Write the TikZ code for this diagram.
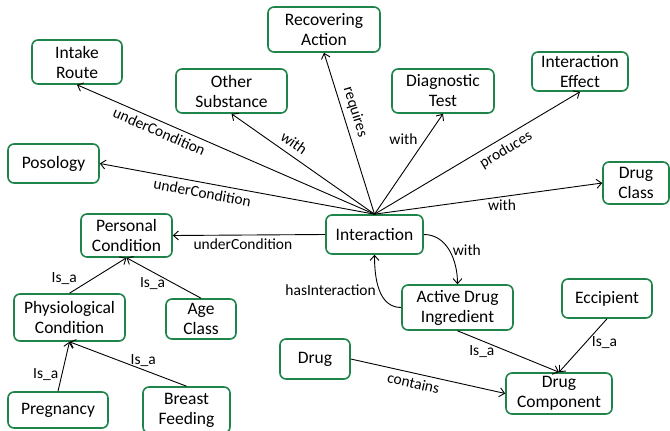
\documentclass[tikz,border=0pt]{standalone}
\usepackage{fontspec}
\setmainfont{Carlito}
\usetikzlibrary{arrows.meta}

\definecolor{boxgreen}{RGB}{30,132,73}

\begin{document}
\begin{tikzpicture}[x=1pt,y=-1pt]

	\tikzset{
	  concept/.style={
		draw=boxgreen,
		line width=1.6pt,
		rounded corners=6pt,
		align=center,
		inner sep=0pt,
		font=\fontsize{17.5}{20}\selectfont,
	  },
	  rel/.style={
		line width=0.9pt,
		-{Straight Barb[length=5pt,width=9pt]},
	  },
	  lbl/.style={
		font=\fontsize{15.5}{17}\selectfont,
		inner sep=3pt,
	  },
	}
	\clip (0,0) rectangle (670,431);

	% concepts
	\node[concept,minimum width=90pt,minimum height=44pt] (intake) at (77,62) {Intake\\Route};
	\node[concept,minimum width=111pt,minimum height=44pt] (other) at (231.5,91) {Other\\Substance};
	\node[concept,minimum width=91pt,minimum height=39pt] (posology) at (53.5,163.5) {Posology};
	\node[concept,minimum width=112pt,minimum height=45pt] (recovering) at (324,29.5) {Recovering\\Action};
	\node[concept,minimum width=102pt,minimum height=44pt] (diagnostic) at (443,91) {Diagnostic\\Test};
	\node[concept,minimum width=96pt,minimum height=39pt] (effect) at (580,71.5) {Interaction\\Effect};
	\node[concept,minimum width=66pt,minimum height=42pt] (drugclass) at (636,183) {Drug\\Class};
	\node[concept,minimum width=97pt,minimum height=39pt] (interaction) at (374.5,234.5) {Interaction};
	\node[concept,minimum width=91pt,minimum height=43pt] (personal) at (126.5,235.5) {Personal\\Condition};
	\node[concept,minimum width=111pt,minimum height=47pt] (physio) at (69.5,317.5) {Physiological\\Condition};
	\node[concept,minimum width=70pt,minimum height=40pt] (age) at (201,319) {Age\\Class};
	\node[concept,minimum width=100pt,minimum height=36pt] (pregnancy) at (58,410) {Pregnancy};
	\node[concept,minimum width=87pt,minimum height=46pt] (breast) at (186.5,410) {Breast\\Feeding};
	\node[concept,minimum width=111pt,minimum height=45pt] (active) at (457.5,307.5) {Active Drug\\Ingredient};
	\node[concept,minimum width=90pt,minimum height=39pt] (eccipient) at (607,298.5) {Eccipient};
	\node[concept,minimum width=70pt,minimum height=40pt] (drug) at (315,359) {Drug};
	\node[concept,minimum width=106pt,minimum height=41pt] (component) at (559,393.5) {Drug\\Component};

	% relations from Interaction
	\draw[rel] (interaction.north) -- node[lbl,pos=.71,sloped,below=1pt] {underCondition} (intake.south);
	\draw[rel] (interaction.north) -- node[lbl,pos=.61,sloped,above=3pt] {with} (other.south);
	\draw[rel] (interaction.north) -- node[lbl,pos=.62,sloped,below=1pt] {underCondition} (posology.east);
	\draw[rel] (interaction.north) -- node[lbl,pos=.61,sloped,above=2pt] {requires} (recovering.south);
	\draw[rel] (interaction.north) -- node[lbl,pos=.75,left=5pt] {with} (diagnostic.south);
	\draw[rel] (interaction.north) -- node[lbl,pos=.61,sloped,below=2pt] {produces} (effect.south);
	\draw[rel] (interaction.north) -- node[lbl,pos=.56,below] {with} (drugclass.west);
	\draw[rel] (interaction.west) -- node[lbl,pos=.54,below] {underCondition} (personal.east);
	\draw[rel] (interaction.east) to[out=0,in=90] node[lbl,pos=.5,right] {with} (active.north);
	\draw[rel] (active.west) to[out=180,in=-90] node[lbl,pos=.5,left] {hasInteraction} (interaction.south);

	% drug components
	\draw[rel] (active.south) -- node[lbl,pos=.24,below=1pt] {Is\_a} (component.north);
	\draw[rel] (eccipient.south) -- node[lbl,pos=.45,right=3pt] {Is\_a} (component.north);
	\draw[rel] (drug.east) -- node[lbl,pos=.42,sloped,below=1pt] {contains} (component.west);

	% personal conditions
	\draw[rel] (physio.north) -- node[lbl,pos=.4,left=12pt] {Is\_a} (personal.south);
	\draw[rel] (age.north) -- node[lbl,pos=.65,below=2pt] {Is\_a} (personal.south);
	\draw[rel] (pregnancy.north) -- node[lbl,pos=.33,left] {Is\_a} (physio.south);
	\draw[rel] (breast.north) -- node[lbl,pos=.37,above] {Is\_a} (physio.south);

\end{tikzpicture}
\end{document}
